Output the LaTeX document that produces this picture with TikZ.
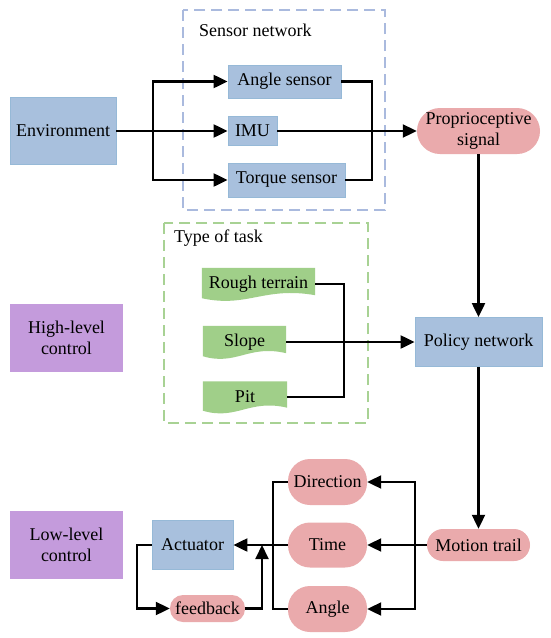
\documentclass[tikz,border=0pt]{standalone}
\usepackage{fontspec}
\setmainfont{Liberation Serif}
\usetikzlibrary{arrows.meta,calc,backgrounds}
\definecolor{bbox}{RGB}{168,192,221}
\definecolor{bedge}{RGB}{150,185,215}
\definecolor{pbox}{RGB}{234,170,172}
\definecolor{gbox}{RGB}{160,207,137}
\definecolor{vbox}{RGB}{196,155,220}
\definecolor{bdash}{RGB}{170,186,222}
\definecolor{gdash}{RGB}{168,210,148}
\tikzset{
  txt/.style={font=\fontsize{18}{21}\selectfont, align=center, inner sep=0pt},
  bluebox/.style={txt, fill=bbox, draw=bedge, line width=0.8pt},
  pinkbox/.style={txt, fill=pbox, rounded corners=#1},
  pinkbox/.default=14pt,
  violetbox/.style={txt, fill=vbox},
  tapebox/.style={txt},
  arr/.style={line width=2.1pt, -{Triangle[length=14pt,width=13pt]}},
  wire/.style={line width=2.1pt},
  dashbox/.style={line width=2pt, dash pattern=on 11pt off 6pt},
}
\newcommand\docshape[1]{%
  \fill[gbox] (#1.north west) -- (#1.north east) -- ($(#1.south east)+(0,-5)$)
    .. controls ($(#1.south east)!0.45!(#1.south west)+(0,-14)$) and ($(#1.south east)!0.6!(#1.south west)+(0,8)$)
    .. ($(#1.south west)+(0,-2)$) -- cycle;}
\begin{document}
\begin{tikzpicture}[x=1pt,y=-1pt]
\useasboundingbox (0,0) rectangle (550,638);

% dashed groups
\draw[dashbox, draw=bdash] (183,10) rectangle (385,210);
\node[txt, anchor=west] (sn) at (199,30) {Sensor network};
\draw[dashbox, draw=gdash] (164,223) rectangle (368,423);
\node[txt, anchor=west] (tt) at (174,238) {Type of task};

% nodes
\node[bluebox, minimum width=106pt, minimum height=67pt] (env) at (63,131) {Environment};
\node[bluebox, minimum width=113pt, minimum height=33pt] (angs) at (284.5,81.5) {Angle sensor};
\node[bluebox, minimum width=49pt, minimum height=29pt] (imu) at (252.5,131) {IMU};
\node[bluebox, minimum width=117pt, minimum height=34pt] (torq) at (286.5,180) {Torque sensor};
\node[pinkbox=23pt, minimum width=123pt, minimum height=46pt] (prop) at (478.5,131) {Proprioceptive\\signal};
\node[bluebox, minimum width=127pt, minimum height=49pt] (policy) at (478.5,342) {Policy network};

\node[tapebox, minimum width=113pt, minimum height=32pt] (rough) at (258.5,284) {Rough terrain};
\node[tapebox, minimum width=83pt, minimum height=32pt] (slope) at (244.5,342) {Slope};
\node[tapebox, minimum width=84pt, minimum height=31pt] (pit) at (245,397) {Pit};
\begin{scope}[on background layer]
\fill[white] (0,0) rectangle (550,638);
\docshape{rough}\docshape{slope}\docshape{pit}
\end{scope}

\node[violetbox, minimum width=113pt, minimum height=68pt] (high) at (66.5,338) {High-level\\control};
\node[violetbox, minimum width=113pt, minimum height=68pt] (low) at (66.5,545) {Low-level\\control};

\node[bluebox, minimum width=81pt, minimum height=49pt] (act) at (192.5,545) {Actuator};
\node[pinkbox=13pt, minimum width=75pt, minimum height=27pt] (fb) at (207.5,608.5) {feedback};
\node[pinkbox=22pt, minimum width=79pt, minimum height=46pt] (dir) at (327.5,482) {Direction};
\node[pinkbox=22pt, minimum width=79pt, minimum height=45pt] (time) at (327.5,545) {Time};
\node[pinkbox=22pt, minimum width=79pt, minimum height=46pt] (ang2) at (327.5,609) {Angle};
\node[pinkbox=16pt, minimum width=103pt, minimum height=32pt] (motion) at (478.5,545) {Motion trail};

% branch coordinates
\coordinate (b1) at (153,0);
\coordinate (b2) at (372,0);
\coordinate (b3) at (344,0);
\coordinate (b4) at (415,0);
\coordinate (b5) at (273,0);
\coordinate (b6) at (137,0);
\coordinate (b7) at (262,0);

% connectors
\draw[arr] (env.east) -- (imu.west);
\draw[arr] (b1 |- env.east) |- (angs.west);
\draw[arr] (b1 |- env.east) |- (torq.west);
\draw[arr] (imu.east) -- (prop.west);
\draw[wire] (angs.east) -| (b2 |- torq.east) -- (torq.east);
\draw[arr] (prop.south) -- (policy.north);

\draw[wire] (rough.east) -| (b3 |- pit.east) -- (pit.east);
\draw[arr] (slope.east) -- (policy.west);

\draw[arr] (policy.south) -- (motion.north);
\draw[arr] (motion.west) -- (time.east);
\draw[arr] (b4 |- motion.west) |- (dir.east);
\draw[arr] (b4 |- motion.west) |- (ang2.east);
\draw[wire] (dir.west) -| (b5 |- ang2.west) -- (ang2.west);
\draw[arr] (time.west) -- (act.east);
\draw[arr] (act.west) -| (b6 |- fb.west) -- (fb.west);
\draw[arr] (fb.east) -| (b7 |- act.east);
\end{tikzpicture}
\end{document}
